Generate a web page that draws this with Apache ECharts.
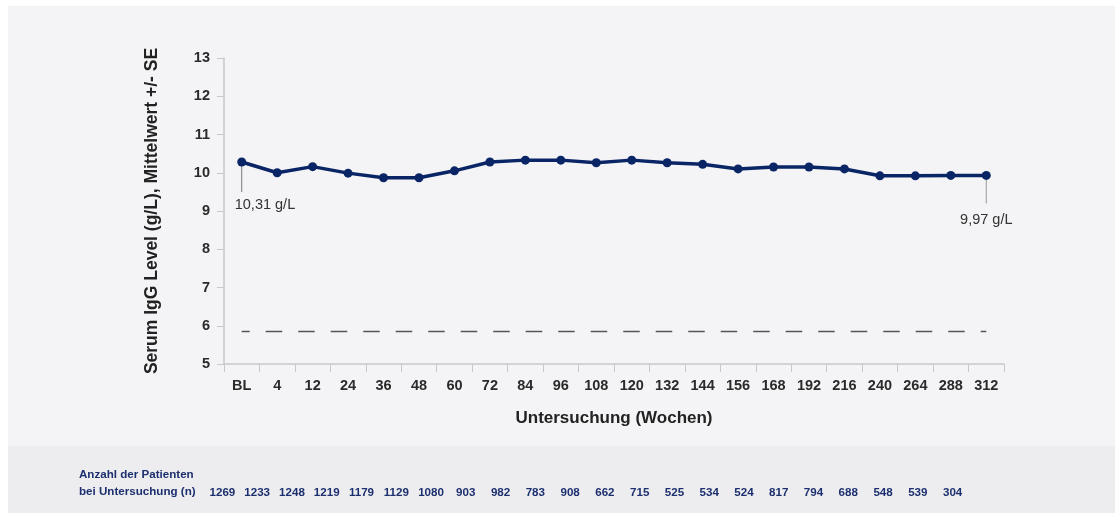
<!DOCTYPE html>
<html>
<head>
<meta charset="utf-8">
<script src="https://cdn.jsdelivr.net/npm/echarts@6/dist/echarts.min.js"></script>
<style>
html, body { margin: 0; padding: 0; background: #fff; }
#main { width: 1116px; height: 513px; }
</style>
</head>
<body>
<div id="main"></div>
<script>
// Daten
var wochen = ['BL', '4', '12', '24', '36', '48', '60', '72', '84', '96', '108', '120', '132', '144', '156', '168', '192', '216', '240', '264', '288', '312'];
var igg = [10.28, 10.0, 10.16, 9.99, 9.87, 9.87, 10.05, 10.28, 10.33, 10.33, 10.26, 10.33, 10.26, 10.22, 10.1, 10.15, 10.15, 10.1, 9.92, 9.92, 9.93, 9.93];
var patienten = ['1269', '1233', '1248', '1219', '1179', '1129', '1080', '903', '982', '783', '908', '662', '715', '525', '534', '524', '817', '794', '688', '548', '539', '304'];
var grenzwert = 5.85;
var startLabel = '10,31 g/L';
var endLabel = '9,97 g/L';

var font = 'Liberation Sans, Arial, sans-serif';
var myChart = echarts.init(document.getElementById('main'));

// Hintergrund und Tabellentext
var hintergrund = [
  { type: 'rect', z: -10, shape: { x: 8, y: 6, width: 1107, height: 440 }, style: { fill: '#f4f4f6' } },
  { type: 'rect', z: -10, shape: { x: 8, y: 446, width: 1107, height: 67 }, style: { fill: '#ededef' } },
  { type: 'text', left: 79, top: 467, style: { text: 'Anzahl der Patienten\nbei Untersuchung (n)', fill: '#1c2f6e', font: 'bold 11.6px ' + font, lineHeight: 16.5 } }
];

var option = {
  animation: false,
  backgroundColor: '#ffffff',
  textStyle: { fontFamily: font },
  graphic: hintergrund,
  grid: [
    { left: 224, right: 112, top: 58, bottom: 149 },
    { left: 205, width: 765, top: 485, height: 1 }
  ],
  xAxis: [{
    type: 'category',
    data: wochen,
    boundaryGap: true,
    name: 'Untersuchung (Wochen)',
    nameLocation: 'middle',
    nameGap: 46,
    nameTextStyle: { fontSize: 17, fontWeight: 'bold', color: '#222' },
    axisLine: { lineStyle: { color: '#c8c8cc', width: 1.5 } },
    axisTick: { show: true, length: 8, lineStyle: { color: '#c8c8cc' } },
    axisLabel: { margin: 14, fontSize: 14.5, fontWeight: 'bold', color: '#2a2a2a' }
  }, {
    type: 'category',
    gridIndex: 1,
    data: patienten,
    axisLine: { show: false },
    axisTick: { show: false },
    axisLabel: { margin: 1, fontSize: 11.6, fontWeight: 'bold', color: '#1c2f6e' }
  }],
  yAxis: [{
    type: 'value',
    min: 5,
    max: 13,
    interval: 1,
    name: 'Serum IgG Level (g/L), Mittelwert +/- SE',
    nameLocation: 'middle',
    nameGap: 63,
    nameTextStyle: { fontSize: 17.5, fontWeight: 'bold', color: '#222' },
    axisLine: { show: true, lineStyle: { color: '#c8c8cc', width: 1.5 } },
    axisTick: { show: true, length: 7, lineStyle: { color: '#c8c8cc' } },
    axisLabel: { margin: 14, fontSize: 14.5, fontWeight: 'bold', color: '#2a2a2a' },
    splitLine: { show: false }
  }, {
    type: 'value',
    gridIndex: 1,
    show: false
  }],
  series: [{
    type: 'line',
    data: igg,
    symbol: 'circle',
    symbolSize: 9,
    lineStyle: { color: '#0a2566', width: 3.5 },
    itemStyle: { color: '#0a2566' },
    z: 5,
    markLine: {
      silent: true,
      symbol: 'none',
      label: { show: false },
      lineStyle: { color: '#555', type: [16.5, 16], dashOffset: 8.5, width: 1.4 },
      data: [[
        { xAxis: wochen[0], yAxis: grenzwert },
        { xAxis: wochen[wochen.length - 1], yAxis: grenzwert }
      ]]
    }
  }]
};

myChart.setOption(option);

// Beschriftung am Anfang und Ende
var p0 = myChart.convertToPixel({ seriesIndex: 0 }, [0, igg[0]]);
var pN = myChart.convertToPixel({ seriesIndex: 0 }, [wochen.length - 1, igg[igg.length - 1]]);
myChart.setOption({
  graphic: hintergrund.concat([
    { type: 'line', z: 1, shape: { x1: p0[0], y1: p0[1], x2: p0[0], y2: p0[1] + 30 }, style: { stroke: '#777', lineWidth: 1 } },
    { type: 'text', x: p0[0] - 7, y: p0[1] + 43, style: { text: startLabel, fill: '#333', font: '14.5px ' + font, textAlign: 'left', textVerticalAlign: 'middle' } },
    { type: 'line', z: 1, shape: { x1: pN[0], y1: pN[1], x2: pN[0], y2: pN[1] + 28 }, style: { stroke: '#999', lineWidth: 1 } },
    { type: 'text', x: pN[0], y: pN[1] + 45, style: { text: endLabel, fill: '#333', font: '14.5px ' + font, textAlign: 'center', textVerticalAlign: 'middle' } }
  ])
});
</script>
</body>
</html>
